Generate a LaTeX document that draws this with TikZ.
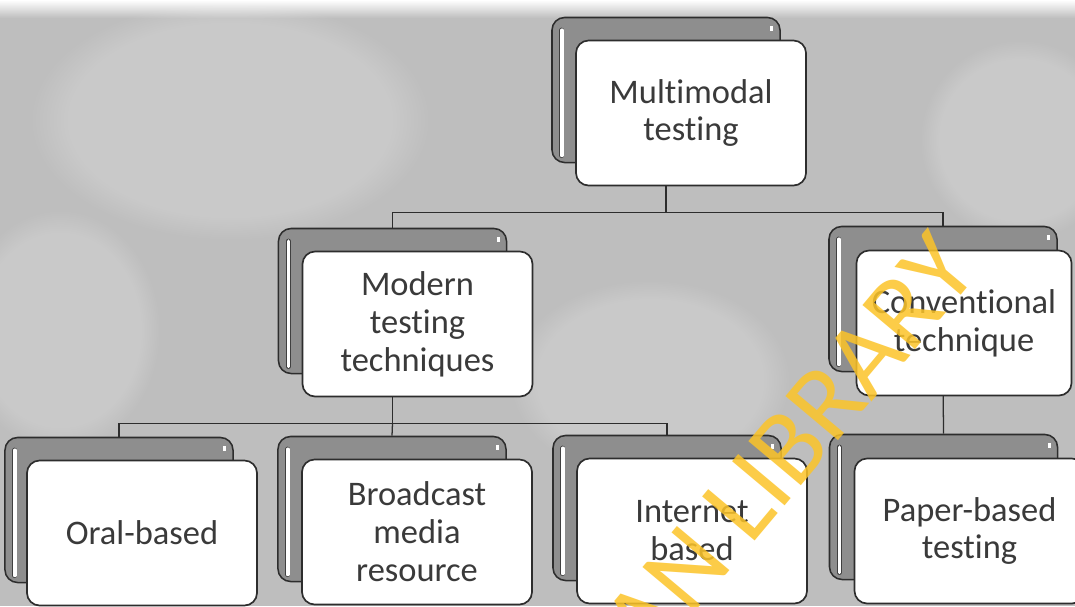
\documentclass[tikz,border=0pt]{standalone}
\usepackage{fontspec}
\setmainfont{Carlito}[Ligatures=NoCommon]
\usetikzlibrary{calc,positioning,fadings}
\definecolor{paperbg}{RGB}{190,190,190}
\definecolor{backgray}{RGB}{142,142,142}
\definecolor{edgegray}{RGB}{45,45,45}
\definecolor{inkgray}{RGB}{58,58,58}
\definecolor{wmark}{RGB}{252,196,40}

\tikzset{
    backbox/.style={draw=edgegray,line width=1.1pt,fill=backgray,rounded corners=9pt,
        minimum width=5.7cm,minimum height=3.625cm,inner sep=0pt,
        path picture={
            \draw[draw=gray!50!black,line width=.6pt,double=white,double distance=2.4pt,line cap=round]
                ([xshift=7pt,yshift=-9pt]path picture bounding box.north west) -- ([xshift=7pt,yshift=5pt]path picture bounding box.south west);
            \fill[white,sharp corners] ([xshift=-5pt,yshift=-6pt]path picture bounding box.north east) rectangle ++(-2pt,-3.5pt);
        }},
    frontbox/.style={draw=edgegray,line width=1.2pt,fill=white,rounded corners=9pt,
        minimum width=5.75cm,minimum height=3.625cm,inner sep=0pt,align=center,
        text=inkgray,font=\fontsize{24.5}{27}\selectfont},
    link/.style={draw=gray!35!black,line width=.9pt},
    patch/.style={fill=white,fill opacity=.18,path fading=circle with fuzzy edge 20 percent},
    stamp/.style={text=wmark,text opacity=.85,font=\fontsize{76}{76}\selectfont}
}

\begin{document}
\begin{tikzpicture}[x=0.025cm,y=-0.025cm]
    \useasboundingbox (0,0) rectangle (1075,606);
    \clip (0,0) rectangle (1075,606);
    \fill[paperbg] (0,0) rectangle (1075,606);
    \shade[top color=white,bottom color=paperbg] (0,0) rectangle (1075,18);
    \fill[patch] (230,120) ellipse (5cm and 3cm);
    \fill[patch] (60,330) ellipse (2.5cm and 3cm);
    \fill[patch] (650,380) ellipse (3.5cm and 2.5cm);
    \fill[patch] (1020,140) ellipse (2.5cm and 2.5cm);
    %\fill[paperbg!80!black] (0,0) rectangle (1075,606);

    \node[backbox] (multimodal-b) at (666,90) {};
    \node[backbox] (modern-b) at (392.5,301) {};
    \node[backbox] (conventional-b) at (943,299) {};
    \node[backbox] (oral-b) at (119,510) {};
    \node[backbox] (broadcast-b) at (392,509) {};
    \node[backbox] (internet-b) at (667,508) {};
    \node[backbox] (paper-b) at (943.5,507) {};

    \path (multimodal-b.south) ++(0,49) coordinate (top-fork);
    \path (modern-b.south) ++(0,49) coordinate (mid-fork);
    \draw[link] (multimodal-b.south) -- (top-fork) -| (modern-b.north);
    \draw[link] (top-fork) -| (conventional-b.north);
    \draw[link] (modern-b.south) -- (mid-fork) -| (oral-b.north);
    \draw[link] (mid-fork) -| (internet-b.north);
    \draw[link] (mid-fork) -- (broadcast-b.north);
    \draw[link] (conventional-b.south) -- (paper-b.north);

    \node[frontbox] (multimodal) at ([shift={(25,23)}]multimodal-b) {Multimodal\\testing};
    \node[frontbox] (modern) at ([shift={(25,23)}]modern-b) {Modern\\testing\\techniques};
    \node[frontbox,minimum width=5.375cm] (conventional) at ([shift={(21,24)}]conventional-b) {Conventional\\technique};
    \node[frontbox] (oral) at ([shift={(23,23)}]oral-b) {Oral-based};
    \node[frontbox] (broadcast) at ([shift={(25,23)}]broadcast-b) {Broadcast\\media\\resource};
    \node[frontbox] (internet) at ([shift={(25,23)}]internet-b) {Internet\\based};
    \node[frontbox] (paper) at ([shift={(26,24)}]paper-b) {Paper-based\\testing};

    \node[stamp,rotate=50,anchor=base east] (library) at (984,268) {UNIVERSITY OF IBADAN LIBRARY};
\end{tikzpicture}
\end{document}
